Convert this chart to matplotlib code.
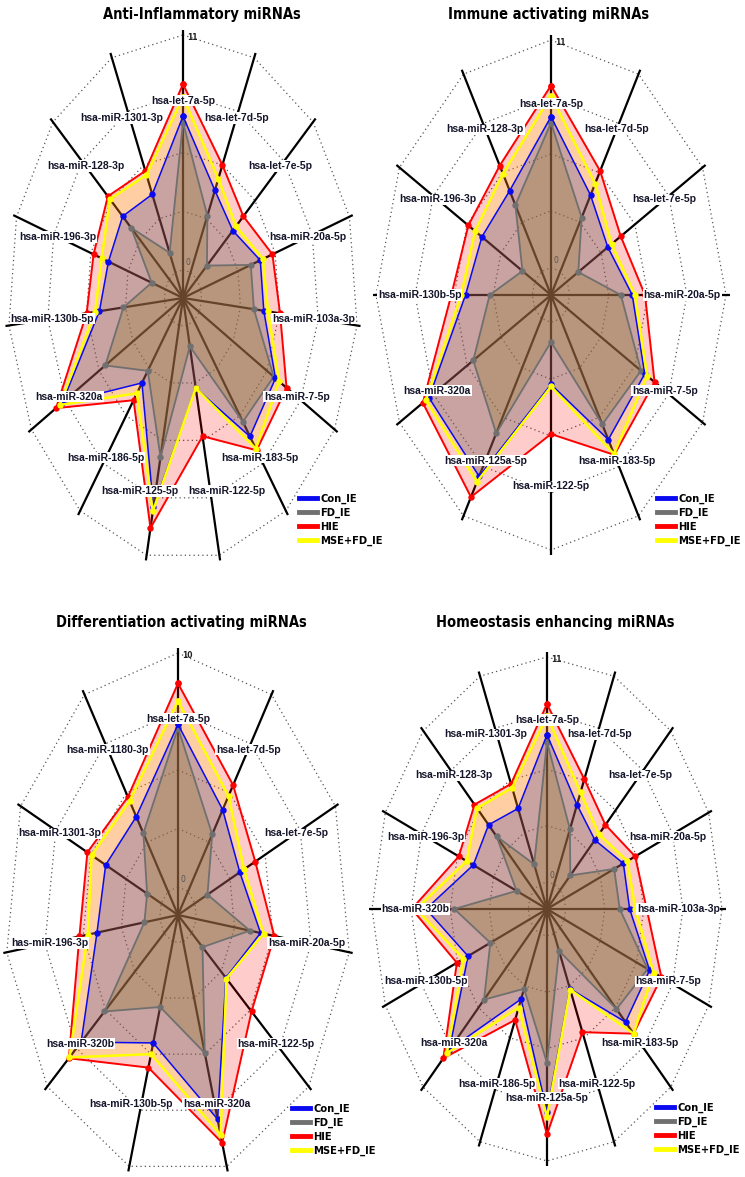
import numpy as np
import matplotlib.pyplot as plt
from matplotlib.lines import Line2D
from matplotlib import font_manager

W, H = 745, 1177
R0 = 0.107  # radius of the inner ("0") ring as a fraction of the outer ring

series_names = ["Con_IE", "FD_IE", "HIE", "MSE+FD_IE"]
line_colors = ["#0a0af0", "#707070", "#ff0000", "#ffff00"]
fill_colors = ["#281ea0", "#967d32", "#ff0000", "#ffe000"]
fill_alpha = [0.25, 0.33, 0.20, 0.20]

# Anti-Inflammatory miRNAs
anti_labels = ["hsa-let-7a-5p", "hsa-let-7d-5p", "hsa-let-7e-5p", "hsa-miR-20a-5p",
               "hsa-miR-103a-3p", "hsa-miR-7-5p", "hsa-miR-183-5p", "hsa-miR-122-5p",
               "hsa-miR-125-5p", "hsa-miR-186-5p", "hsa-miR-320a", "hsa-miR-130b-5p",
               "hsa-miR-196-3p", "hsa-miR-128-3p", "hsa-miR-1301-3p"]
anti_con = [7.2, 4.2, 3.4, 4.4, 4.4, 6.2, 6.7, 3.0, 8.7, 3.6, 8.5, 4.6, 4.2, 4.4, 4.0]
anti_fd = [6.9, 2.9, 0.95, 3.7, 3.7, 6.05, 5.85, 1.0, 6.3, 2.9, 5.0, 2.9, 1.0, 3.6, 1.0]
anti_hie = [8.7, 5.5, 4.4, 5.3, 5.55, 7.1, 7.5, 5.3, 9.7, 4.6, 9.0, 5.5, 5.3, 5.8, 5.2]
anti_mse = [8.1, 4.8, 3.7, 4.6, 4.7, 6.5, 7.4, 3.0, 8.9, 4.2, 8.7, 4.9, 4.7, 5.6, 5.0]

# Immune activating miRNAs
imm_labels = ["hsa-let-7a-5p", "hsa-let-7d-5p", "hsa-let-7e-5p", "hsa-miR-20a-5p",
              "hsa-miR-7-5p", "hsa-miR-183-5p", "hsa-miR-122-5p", "hsa-miR-125a-5p",
              "hsa-miR-320a", "hsa-miR-130b-5p", "hsa-miR-196-3p", "hsa-miR-128-3p"]
imm_con = [7.3, 4.25, 3.3, 4.4, 6.3, 6.75, 3.0, 8.8, 8.6, 4.7, 4.3, 4.5]
imm_fd = [7.0, 3.0, 0.9, 3.6, 6.0, 5.9, 0.95, 6.4, 5.0, 3.0, 1.0, 3.7]
imm_hie = [8.8, 5.6, 4.35, 5.3, 7.1, 7.6, 5.4, 9.95, 9.1, 5.7, 5.4, 5.9]
imm_mse = [8.3, 4.9, 3.6, 4.6, 6.5, 7.55, 3.1, 9.1, 8.85, 5.0, 4.85, 5.45]

# Differentiation activating miRNAs
diff_labels = ["hsa-let-7a-5p", "hsa-let-7d-5p", "hsa-let-7e-5p", "hsa-miR-20a-5p",
               "hsa-miR-122-5p", "hsa-miR-320a", "hsa-miR-130b-5p", "hsa-miR-320b",
               "has-miR-196-3p", "hsa-miR-1301-3p", "hsa-miR-1180-3p"]
diff_con = [6.95, 4.15, 3.2, 4.2, 2.9, 7.9, 4.5, 7.1, 4.1, 3.95, 3.8]
diff_fd = [6.8, 2.9, 0.9, 3.5, 0.9, 4.95, 2.9, 5.1, 1.0, 1.0, 2.95]
diff_hie = [8.7, 5.4, 4.3, 5.1, 5.1, 8.95, 5.6, 8.15, 5.25, 5.25, 4.8]
diff_mse = [7.95, 4.85, 3.5, 4.4, 2.95, 8.6, 5.0, 8.1, 4.7, 4.95, 4.6]

# Homeostasis enhancing miRNAs
homeo_labels = ["hsa-let-7a-5p", "hsa-let-7d-5p", "hsa-let-7e-5p", "hsa-miR-20a-5p",
                "hsa-miR-103a-3p", "hsa-miR-7-5p", "hsa-miR-183-5p", "hsa-miR-122-5p",
                "hsa-miR-125a-5p", "hsa-miR-186-5p", "hsa-miR-320a", "hsa-miR-130b-5p",
                "hsa-miR-320b", "hsa-miR-196-3p", "hsa-miR-128-3p", "hsa-miR-1301-3p"]
homeo_con = [7.2, 4.2, 3.45, 4.5, 4.5, 6.5, 6.5, 2.9, 8.6, 3.45, 8.4, 4.7, 7.2, 4.3, 4.5, 4.0]
homeo_fd = [6.85, 2.9, 1.0, 3.8, 3.8, 6.35, 5.6, 0.9, 6.2, 2.9, 4.95, 3.0, 5.2, 1.0, 3.7, 1.05]
homeo_hie = [8.7, 5.55, 4.5, 5.4, 5.7, 7.4, 7.3, 5.2, 9.7, 4.55, 9.0, 5.55, 8.2, 5.4, 5.9, 5.3]
homeo_mse = [8.1, 4.85, 3.85, 4.8, 4.9, 6.8, 7.3, 2.95, 8.85, 3.9, 8.65, 5.05, 7.9, 4.8, 5.65, 5.1]

# a condensed bold face for titles and legends, if one is installed
narrow = None
for fe in font_manager.fontManager.ttflist:
    name = fe.name.lower()
    if ("narrow" in name or "condensed" in name or fe.stretch in ("condensed", 700)) \
            and fe.weight in ("bold", 700):
        narrow = fe.fname
        break
if narrow:
    title_prop = dict(fname=narrow)
else:
    title_prop = dict(family="Liberation Sans", weight="bold")

label_font = ["Liberation Sans", "DejaVu Sans"]

fig = plt.figure(figsize=(W / 100, H / 100), dpi=100)
renderer = fig.canvas.get_renderer()


def radar(cx, cy, rx, ry, title, tx, ty, labels, con, fd, hie, mse, vmax, lx, ly):
    n = len(labels)
    ax = fig.add_axes([(cx - 1.1 * rx) / W, (H - cy - 1.1 * ry) / H, 2.2 * rx / W, 2.2 * ry / H])
    ax.set_xlim(-1.1, 1.1)
    ax.set_ylim(-1.1, 1.1)
    ax.axis("off")
    ang = 2 * np.pi * np.arange(n) / n
    s, c = np.sin(ang), np.cos(ang)

    # dotted grid rings and spokes
    for k in range(5):
        f = R0 + (1 - R0) * k / 4
        ax.plot(np.append(f * s, f * s[0]), np.append(f * c, f * c[0]),
                ls=(0, (1, 2.5)), color="#555555", lw=0.9, zorder=1)
    for si, ci in zip(s, c):
        ax.plot([0, 1.02 * si], [0, 1.02 * ci], color="black", lw=1.6, zorder=1,
                solid_capstyle="butt")

    vals = [con, fd, hie, mse]
    xy = []
    for v in vals:
        f = R0 + (1 - R0) * np.asarray(v) / vmax
        xy.append((np.append(f * s, f[0] * s[0]), np.append(f * c, f[0] * c[0])))

    # fills from the outermost group inwards
    for i in [2, 3, 0, 1]:
        ax.fill(xy[i][0], xy[i][1], color=fill_colors[i], alpha=fill_alpha[i], lw=0, zorder=2)
    widths = [1.1, 1.3, 1.4, 1.8]
    for i in [2, 1, 0, 3]:
        ax.plot(xy[i][0], xy[i][1], color=line_colors[i], lw=widths[i], marker="o",
                ms=3.6, zorder=3)

    # axis labels
    for lab, si, ci in zip(labels, s, c):
        t = ax.text(0.75 * si, 0.75 * ci, lab, ha="center", va="center", fontsize=7.5,
                    fontweight="bold", color="#14142a", family=label_font, zorder=5,
                    bbox=dict(facecolor="white", edgecolor="none", pad=0.5))
        if 1e-6 < abs(si) < 0.45:
            w = t.get_window_extent(renderer).width
            gap = 20 if ci > 0 else 5
            if abs(0.75 * si) * rx - w / 2 < gap:
                t.set_x(np.sign(si) * (gap + w / 2) / rx)

    ax.text(0.025, 0.99, str(vmax), ha="left", va="center", fontsize=5.5,
            fontweight="bold", color="#222222", zorder=6)
    ax.text(0.015, R0 + 0.01, "0", ha="left", va="bottom", fontsize=5.5,
            color="#555555", zorder=6)

    fig.text(tx / W, 1 - ty / H, title, ha="center", va="center",
             fontproperties=font_manager.FontProperties(size=10.5, **title_prop))

    handles = [Line2D([], [], color=line_colors[i], lw=3.5) for i in range(4)]
    fig.legend(handles, series_names, loc="upper left", bbox_to_anchor=(lx / W, 1 - ly / H),
               frameon=False, handlelength=1.6, handletextpad=0.3, labelspacing=0.35,
               borderpad=0, borderaxespad=0,
               prop=font_manager.FontProperties(size=8, **title_prop))


radar(183, 298, 175, 263, "Anti-Inflammatory miRNAs", 202, 15,
      anti_labels, anti_con, anti_fd, anti_hie, anti_mse, 11, 299, 494)
radar(551, 295, 175, 255, "Immune activating miRNAs", 549, 15,
      imm_labels, imm_con, imm_fd, imm_hie, imm_mse, 11, 657, 494)
radar(178, 915, 173, 262, "Differentiation activating miRNAs", 181, 622,
      diff_labels, diff_con, diff_fd, diff_hie, diff_mse, 10, 292, 1104)
radar(547, 909, 175, 252, "Homeostasis enhancing miRNAs", 555, 622,
      homeo_labels, homeo_con, homeo_fd, homeo_hie, homeo_mse, 11, 656, 1103)

fig.savefig("out.png", dpi=100)
